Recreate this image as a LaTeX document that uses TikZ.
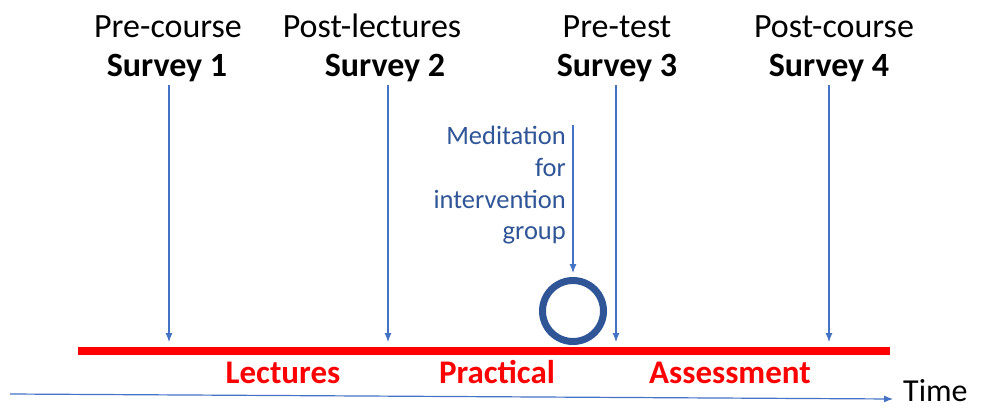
\documentclass[tikz,border=0pt]{standalone}
\usepackage{fontspec}
\setmainfont{Carlito}
\usetikzlibrary{arrows.meta}
\definecolor{arrowblue}{HTML}{4472C4}
\definecolor{darkblue}{HTML}{2F5597}
\definecolor{barred}{HTML}{FF0000}
\begin{document}
\begin{tikzpicture}[x=1pt,y=-1pt,
  toplabel/.style={font=\fontsize{34}{34}\selectfont, text=black, inner sep=0pt, anchor=base},
  phase/.style={font=\fontsize{33}{33}\selectfont\bfseries, text=barred, inner sep=0pt, anchor=base},
  survey/.style={draw=arrowblue, line width=1.1pt, -{Latex[length=9pt,width=7pt]}},
  medtext/.style={font=\fontsize{26.5}{31.7}\selectfont, text=darkblue, align=right, inner sep=0pt, anchor=north east}]
\useasboundingbox (0,0) rectangle (984,410);

% survey headings
\node[toplabel] (pre1) at (168,37) {Pre-course};
\node[toplabel] (s1) at (167,76) {\bfseries Survey 1};
\node[toplabel] (pre2) at (372,37) {Post-lectures};
\node[toplabel] (s2) at (385,76) {\bfseries Survey 2};
\node[toplabel] (pre3) at (617,37) {Pre-test};
\node[toplabel] (s3) at (617,76) {\bfseries Survey 3};
\node[toplabel] (pre4) at (834,37) {Post-course};
\node[toplabel] (s4) at (829,76) {\bfseries Survey 4};

% course timeline bar
\coordinate (barL) at (78,351);
\coordinate (barR) at (890,351);
\draw[barred, line width=8pt] (barL) -- (barR);

% survey arrows onto the bar
\coordinate (a1) at (169,85);  \coordinate (b1) at (169,342);
\coordinate (a2) at (388,85);  \coordinate (b2) at (388,342);
\coordinate (a3) at (616,85);  \coordinate (b3) at (616,342);
\coordinate (a4) at (829,85);  \coordinate (b4) at (829,342);
\draw[survey] (a1) -- (b1);
\draw[survey] (a2) -- (b2);
\draw[survey] (a3) -- (b3);
\draw[survey] (a4) -- (b4);

% meditation intervention
\node[medtext] (med) at (566,126) {Meditation\\for\\intervention\\group};
\node[draw=darkblue, line width=7pt, circle, minimum size=61pt, inner sep=0pt] (ring) at (573,311) {};
\coordinate (m0) at (573,125);
\draw[survey, shorten >=4pt] (m0) -- (ring.north);

% phase labels
\node[phase] (lec) at (283,383) {Lectures};
\node[phase] (prac) at (497,383) {Practical};
\node[phase] (ass) at (730,383) {Assessment};

% time axis
\coordinate (t0) at (10,394);
\coordinate (t1) at (893,399);
\node[font=\fontsize{32}{32}\selectfont, anchor=base west, inner sep=0pt, text depth=0pt] (time) at (903,401) {Time};
\draw[arrowblue, line width=1.2pt, -{Latex[length=9pt,width=7pt]}] (t0) -- (t1);
\end{tikzpicture}
\end{document}
